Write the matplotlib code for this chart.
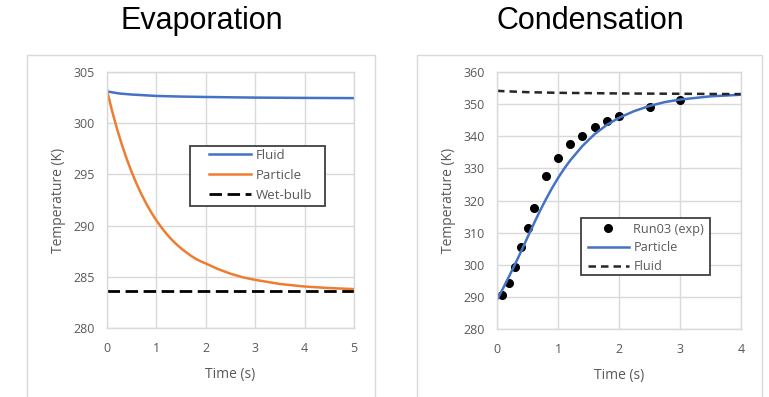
import matplotlib
matplotlib.use('Agg')
import matplotlib.pyplot as plt
from matplotlib.patches import Rectangle

plt.rcParams['font.family'] = ['Open Sans', 'DejaVu Sans']

# evaporation panel
evap_t = [0, 0.1, 0.2, 0.3, 0.4, 0.5, 0.6, 0.7, 0.8, 0.9, 1.0, 1.1, 1.2, 1.3,
          1.4, 1.5, 1.6, 1.7, 1.8, 1.9, 2.0, 2.25, 2.5, 2.75, 3.0, 3.5, 4.0,
          4.5, 5.0]
evap_particle = [303.2, 301.25, 299.5, 297.92, 296.5, 295.22, 294.07, 293.03,
                 292.1, 291.26, 290.5, 289.83, 289.22, 288.68, 288.2, 287.78,
                 287.4, 287.05, 286.75, 286.5, 286.3, 285.75, 285.3, 284.95,
                 284.7, 284.3, 284.05, 283.9, 283.8]
evap_fluid_t = [0, 0.25, 0.5, 1.0, 1.5, 2.0, 3.0, 4.0, 5.0]
evap_fluid = [303.1, 302.9, 302.8, 302.66, 302.6, 302.56, 302.5, 302.47, 302.45]
wet_bulb = 283.6

# condensation panel
exp_t = [0.08, 0.2, 0.3, 0.4, 0.5, 0.6, 0.8, 1.0, 1.2, 1.4, 1.6, 1.8, 2.0, 2.5, 3.0]
exp_T = [290.6, 294.4, 299.2, 305.6, 311.5, 317.8, 327.5, 333.3, 337.5, 340.2,
         342.8, 344.8, 346.4, 349.3, 351.4]
cond_t = [0, 0.1, 0.2, 0.3, 0.4, 0.5, 0.6, 0.7, 0.8, 0.9, 1.0, 1.1, 1.2, 1.4,
          1.6, 1.8, 2.0, 2.25, 2.5, 2.75, 3.0, 3.5, 4.0]
cond_particle = [289.0, 292.6, 296.4, 300.3, 304.3, 308.5, 312.6, 316.6, 320.3,
                 323.8, 327.0, 329.9, 332.5, 337.0, 340.7, 343.6, 345.8, 347.9,
                 349.5, 350.7, 351.5, 352.5, 353.0]
cond_fluid_t = [0, 0.5, 1.0, 2.0, 3.0, 4.0]
cond_fluid = [354.2, 353.8, 353.6, 353.4, 353.3, 353.2]

BLUE = '#4472C4'
ORANGE = '#ED7D31'
GRID = '#D9D9D9'
TXT = '#595959'

fig = plt.figure(figsize=(7.69, 3.97), dpi=100)

# outer chart boxes
W, H = 769, 397
for x0, x1 in [(27, 375), (417, 762)]:
    fig.patches.append(Rectangle((x0 / W, -0.05), (x1 - x0) / W, (H - 55) / H + 0.05,
                                 transform=fig.transFigure, fill=False,
                                 edgecolor=GRID, lw=1.0))

fig.text(202 / W, 1 - 21 / H, 'Evaporation', ha='center', va='center',
         fontsize=22, family='Liberation Sans')
fig.text(590 / W, 1 - 21 / H, 'Condensation', ha='center', va='center',
         fontsize=22, family='Liberation Sans')

ax1 = fig.add_axes([107 / W, 1 - 328 / H, 247 / W, 256 / H])
ax2 = fig.add_axes([497 / W, 1 - 328.7 / H, 244 / W, 256.4 / H])


def style(ax):
    ax.grid(True, color=GRID, lw=1.0)
    ax.set_axisbelow(True)
    for s in ax.spines.values():
        s.set_color(GRID)
        s.set_linewidth(1.0)
    ax.tick_params(length=0, labelsize=9, labelcolor=TXT)
    ax.tick_params(axis='x', pad=10)
    ax.tick_params(axis='y', pad=9)
    ax.set_xlabel('Time (s)', fontsize=10, color=TXT, labelpad=9)
    ax.set_ylabel('Temperature (K)', fontsize=10, color=TXT, labelpad=5)


def legend(ax, anchor, box, spacing, fs):
    # white box with dark frame, legend entries drawn on top without own frame
    ax.add_patch(Rectangle(box[:2], box[2], box[3], transform=ax.transAxes,
                           facecolor='white', edgecolor='#404040', lw=1.3,
                           zorder=4, clip_on=False))
    leg = ax.legend(loc='upper left', bbox_to_anchor=anchor, fontsize=fs,
                    frameon=False, borderpad=0, labelspacing=spacing,
                    handlelength=3.2, handletextpad=0.35, borderaxespad=0)
    leg.set_zorder(5)
    for t in leg.get_texts():
        t.set_color(TXT)
    return leg


ax1.plot(evap_fluid_t, evap_fluid, color=BLUE, lw=1.8, label='Fluid')
ax1.plot(evap_t, evap_particle, color=ORANGE, lw=1.8, label='Particle')
ax1.axhline(wet_bulb, color='black', lw=2, dashes=(4.5, 2), label='Wet-bulb')
ax1.set_xlim(0, 5)
ax1.set_ylim(280, 305)
ax1.set_yticks(range(280, 306, 5))
ax1.set_xticks(range(0, 6))
style(ax1)
legend(ax1, (0.413, 0.700), (0.336, 0.4766, 0.5466, 0.2344), 0.52, 9.5)

ax2.plot(exp_t, exp_T, 'o', color='black', ms=5.5, label='Run03 (exp)')
ax2.plot(cond_t, cond_particle, color=BLUE, lw=1.8, label='Particle')
ax2.plot(cond_fluid_t, cond_fluid, color='#262626', lw=1.8, dashes=(3, 2),
         label='Fluid')
ax2.set_xlim(0, 4)
ax2.set_ylim(280, 360)
ax2.set_yticks(range(280, 361, 10))
ax2.set_xticks(range(0, 5))
style(ax2)
legend(ax2, (0.373, 0.414), (0.3455, 0.2083, 0.526, 0.2246), 0.45, 9.2)

fig.savefig('out.png', dpi=100)
